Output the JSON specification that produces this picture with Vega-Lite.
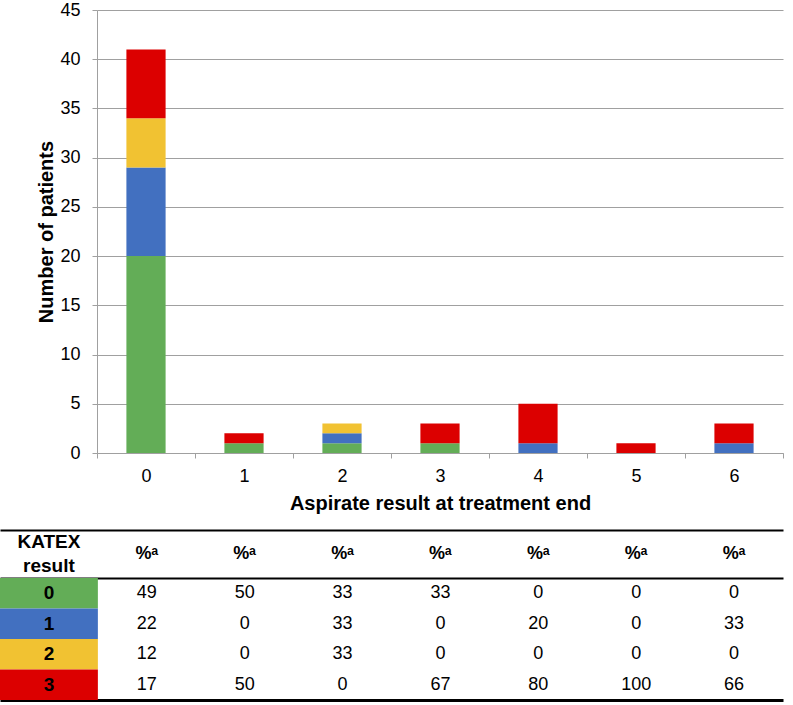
{
  "$schema": "https://vega.github.io/schema/vega-lite/v6.json",
  "background": "white",
  "padding": {"left": 0, "top": 1, "right": 5, "bottom": 2},
  "config": {
    "font": "Liberation Sans",
    "view": {"stroke": null},
    "axis": {"labelFont": "Liberation Sans", "titleFont": "Liberation Sans", "labelColor": "black", "titleColor": "black"}
  },
  "datasets": {
    "bars": [
      {"asp": "0", "katex": "0", "n": 20}, {"asp": "0", "katex": "1", "n": 9}, {"asp": "0", "katex": "2", "n": 5}, {"asp": "0", "katex": "3", "n": 7},
      {"asp": "1", "katex": "0", "n": 1}, {"asp": "1", "katex": "3", "n": 1},
      {"asp": "2", "katex": "0", "n": 1}, {"asp": "2", "katex": "1", "n": 1}, {"asp": "2", "katex": "2", "n": 1},
      {"asp": "3", "katex": "0", "n": 1}, {"asp": "3", "katex": "3", "n": 2},
      {"asp": "4", "katex": "1", "n": 1}, {"asp": "4", "katex": "3", "n": 4},
      {"asp": "5", "katex": "3", "n": 1},
      {"asp": "6", "katex": "1", "n": 1}, {"asp": "6", "katex": "3", "n": 2}
    ],
    "pct": [
      {"asp": "0", "katex": "0", "pct": 49}, {"asp": "1", "katex": "0", "pct": 50}, {"asp": "2", "katex": "0", "pct": 33}, {"asp": "3", "katex": "0", "pct": 33}, {"asp": "4", "katex": "0", "pct": 0}, {"asp": "5", "katex": "0", "pct": 0}, {"asp": "6", "katex": "0", "pct": 0},
      {"asp": "0", "katex": "1", "pct": 22}, {"asp": "1", "katex": "1", "pct": 0}, {"asp": "2", "katex": "1", "pct": 33}, {"asp": "3", "katex": "1", "pct": 0}, {"asp": "4", "katex": "1", "pct": 20}, {"asp": "5", "katex": "1", "pct": 0}, {"asp": "6", "katex": "1", "pct": 33},
      {"asp": "0", "katex": "2", "pct": 12}, {"asp": "1", "katex": "2", "pct": 0}, {"asp": "2", "katex": "2", "pct": 33}, {"asp": "3", "katex": "2", "pct": 0}, {"asp": "4", "katex": "2", "pct": 0}, {"asp": "5", "katex": "2", "pct": 0}, {"asp": "6", "katex": "2", "pct": 0},
      {"asp": "0", "katex": "3", "pct": 17}, {"asp": "1", "katex": "3", "pct": 50}, {"asp": "2", "katex": "3", "pct": 0}, {"asp": "3", "katex": "3", "pct": 67}, {"asp": "4", "katex": "3", "pct": 80}, {"asp": "5", "katex": "3", "pct": 100}, {"asp": "6", "katex": "3", "pct": 66}
    ],
    "rows": [{"katex": "0"}, {"katex": "1"}, {"katex": "2"}, {"katex": "3"}],
    "header": [
      {"col": "K", "label": "KATEX\nresult"},
      {"col": "0", "label": "%ᵃ"}, {"col": "1", "label": "%ᵃ"}, {"col": "2", "label": "%ᵃ"}, {"col": "3", "label": "%ᵃ"},
      {"col": "4", "label": "%ᵃ"}, {"col": "5", "label": "%ᵃ"}, {"col": "6", "label": "%ᵃ"}
    ]
  },
  "bounds": "flush",
  "spacing": 77,
  "vconcat": [
    {
      "width": 686,
      "height": 443,
      "data": {"name": "bars"},
      "mark": {"type": "bar", "width": {"band": 0.4}},
      "encoding": {
        "x": {
          "field": "asp", "type": "nominal",
          "scale": {"domain": ["0", "1", "2", "3", "4", "5", "6"], "paddingInner": 0, "paddingOuter": 0},
          "axis": {
            "title": "Aspirate result at treatment end", "labelAngle": 0, "tickBand": "extent",
            "labelFontSize": 18, "labelPadding": 9, "tickSize": 5, "tickColor": "#a0a0a0", "domainColor": "#a0a0a0",
            "titleFontSize": 20, "titleFontWeight": "bold", "titlePadding": 8
          }
        },
        "y": {
          "field": "n", "type": "quantitative", "stack": "zero",
          "scale": {"domain": [0, 45]},
          "axis": {
            "title": "Number of patients", "values": [0, 5, 10, 15, 20, 25, 30, 35, 40, 45],
            "labelFontSize": 18, "labelPadding": 12, "tickSize": 5, "tickColor": "#a0a0a0", "domainColor": "#a0a0a0",
            "gridColor": "#a0a0a0", "gridOpacity": 1,
            "titleFontSize": 20, "titleFontWeight": "bold", "titlePadding": 3
          }
        },
        "color": {
          "field": "katex", "type": "nominal",
          "scale": {"domain": ["0", "1", "2", "3"], "range": ["#63ad57", "#4270c0", "#f1c232", "#dc0000"]},
          "legend": null
        },
        "order": {"field": "katex", "sort": "ascending"}
      }
    },
    {
      "bounds": "flush",
      "spacing": 0,
      "vconcat": [
        {
          "width": 686,
          "height": 48,
          "data": {"name": "header"},
          "layer": [
            {
              "transform": [{"filter": "datum.col === 'K'"}],
              "mark": {"type": "text", "fontSize": 19, "fontWeight": "bold", "lineBreak": "\n", "lineHeight": 24, "dy": -12, "align": "center", "baseline": "middle"},
              "encoding": {
                "x": {
                  "field": "col", "type": "nominal",
                  "scale": {"domain": ["K", "0", "1", "2", "3", "4", "5", "6"], "range": [-97, 686], "paddingInner": 0, "paddingOuter": 0},
                  "axis": {"orient": "top", "title": null, "labels": false, "ticks": false, "domainColor": "black", "domainWidth": 2}
                },
                "text": {"field": "label"}
              }
            },
            {
              "transform": [{"filter": "datum.col !== 'K'"}],
              "mark": {"type": "text", "fontSize": 18, "fontWeight": "bold", "align": "center", "baseline": "middle"},
              "encoding": {
                "x": {"field": "col", "type": "nominal"},
                "text": {"field": "label"}
              }
            }
          ]
        },
        {
          "width": 686,
          "height": 122,
          "resolve": {"axis": {"x": "independent"}},
          "layer": [
            {
              "data": {"name": "rows"},
              "mark": {"type": "bar"},
              "encoding": {
                "x": {
                  "datum": "K", "type": "nominal",
                  "scale": {"domain": ["K", "0", "1", "2", "3", "4", "5", "6"], "range": [-97, 686], "paddingInner": 0, "paddingOuter": 0},
                  "axis": {"orient": "top", "title": null, "labels": false, "ticks": false, "domainColor": "black", "domainWidth": 2}
                },
                "y": {
                  "field": "katex", "type": "nominal",
                  "scale": {"domain": ["0", "1", "2", "3"], "paddingInner": 0, "paddingOuter": 0},
                  "axis": null
                },
                "color": {
                  "field": "katex", "type": "nominal",
                  "scale": {"domain": ["0", "1", "2", "3"], "range": ["#63ad57", "#4270c0", "#f1c232", "#dc0000"]},
                  "legend": null
                }
              }
            },
            {
              "data": {"name": "rows"},
              "mark": {"type": "text", "fontSize": 19, "fontWeight": "bold", "color": "black", "align": "center", "baseline": "middle"},
              "encoding": {
                "x": {"datum": "K", "type": "nominal", "axis": null},
                "y": {"field": "katex", "type": "nominal"},
                "text": {"field": "katex"}
              }
            },
            {
              "data": {"name": "pct"},
              "mark": {"type": "text", "fontSize": 18, "color": "black", "align": "center", "baseline": "middle"},
              "encoding": {
                "x": {
                  "field": "asp", "type": "nominal",
                  "axis": {"orient": "bottom", "title": null, "labels": false, "ticks": false, "domainColor": "black", "domainWidth": 3}
                },
                "y": {"field": "katex", "type": "nominal"},
                "text": {"field": "pct"}
              }
            }
          ]
        }
      ]
    }
  ]
}
